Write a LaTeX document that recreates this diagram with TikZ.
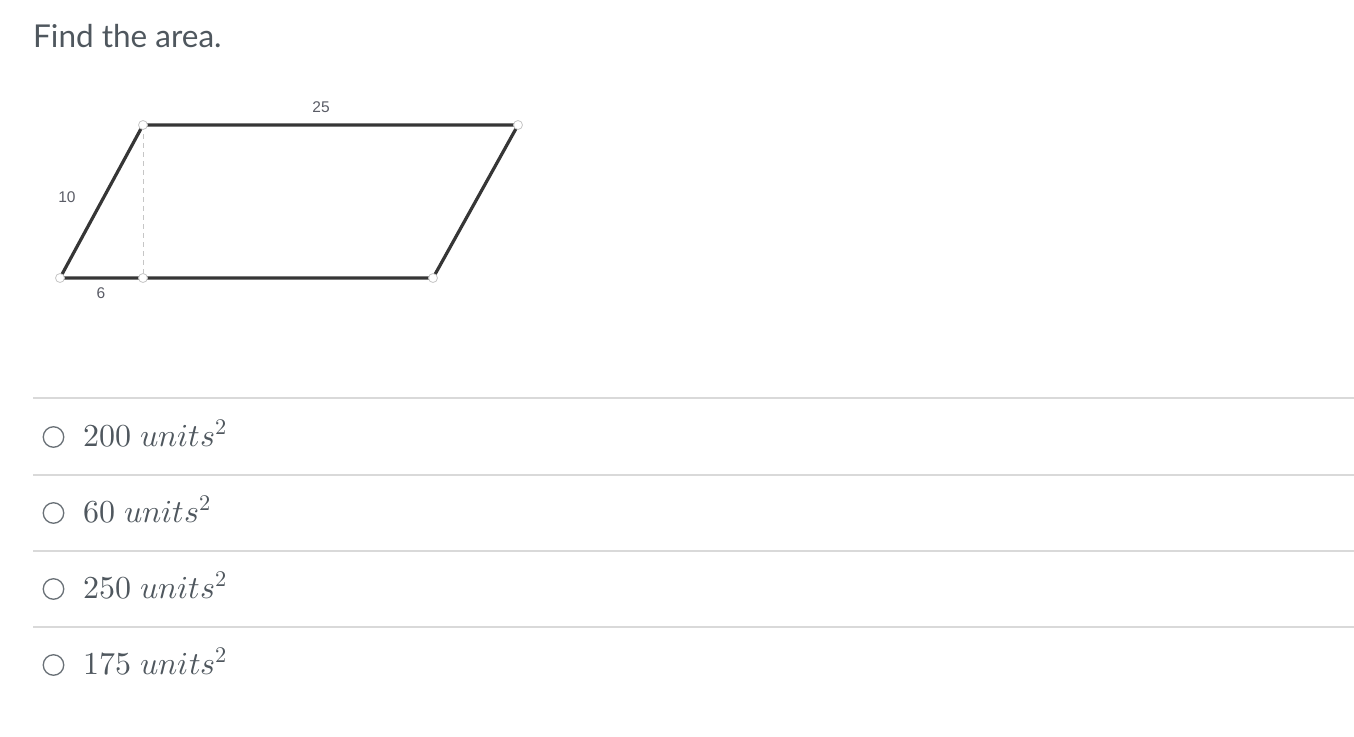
\documentclass[tikz,border=0pt]{standalone}
\usepackage{fontspec}
\setmainfont{Lato}
\newfontfamily\labfont{Liberation Sans}
\usepackage{unicode-math}
\setmathfont{Latin Modern Math}
\definecolor{txt}{HTML}{4F575E}
\definecolor{sep}{HTML}{D9D9D9}
\definecolor{edge}{HTML}{363636}
\definecolor{lab}{HTML}{5A5C66}
\tikzset{
  side/.style={draw=edge, line width=3.2pt},
  vert/.style={circle, draw=gray!45, fill=white, line width=0.8pt, inner sep=0pt, minimum size=9pt},
  lbl/.style={font=\labfont\fontsize{15.5}{16}\selectfont, text=lab, inner sep=0pt},
  radio/.style={circle, draw=txt!85, line width=1.3pt, minimum size=20.5pt, inner sep=0pt},
  opt/.style={anchor=base west, inner sep=0pt, text=txt, font=\fontsize{32}{34}\selectfont},
  rule/.style={draw=sep, line width=1.2pt}
}
\begin{document}
\begin{tikzpicture}[x=1pt,y=-1pt]
\useasboundingbox (0,0) rectangle (1354,736);
\node[anchor=base west, inner sep=0pt, text=txt, font=\fontsize{31.5}{33}\selectfont] (title) at (33,47) {Find the area.};
% parallelogram
\coordinate (A) at (60,278);
\coordinate (F) at (143,278);
\coordinate (B) at (433,278);
\coordinate (C) at (518,125);
\coordinate (D) at (143,125);
\draw[draw=gray!45, line width=0.9pt, dash pattern=on 5pt off 4pt] (D) -- (F);
\draw[side] (A) -- (B) -- (C) -- (D) -- cycle;
\node[vert] (vA) at (A) {};
\node[vert] (vF) at (F) {};
\node[vert] (vB) at (B) {};
\node[vert] (vC) at (C) {};
\node[vert] (vD) at (D) {};
\node[lbl] (l25) at (321,107) {25};
\node[lbl] (l10) at (67,197) {10};
\node[lbl] (l6) at (101,293) {6};
% separators
\foreach \y/\n in {398/r1,475/r2,551/r3,627/r4}{
  \coordinate (\n a) at (33,\y);
  \coordinate (\n b) at (1354,\y);
  \draw[rule] (\n a) -- (\n b);
}
% options
\node[radio] (c1) at (53.5,437) {};
\node[opt] (o1) at (83,446) {$200\;units^2$};
\node[radio] (c2) at (53.5,513) {};
\node[opt] (o2) at (83,522) {$60\;units^2$};
\node[radio] (c3) at (53.5,589) {};
\node[opt] (o3) at (83,598) {$250\;units^2$};
\node[radio] (c4) at (53.5,665) {};
\node[opt] (o4) at (83,674) {$175\;units^2$};
\end{tikzpicture}
\end{document}
